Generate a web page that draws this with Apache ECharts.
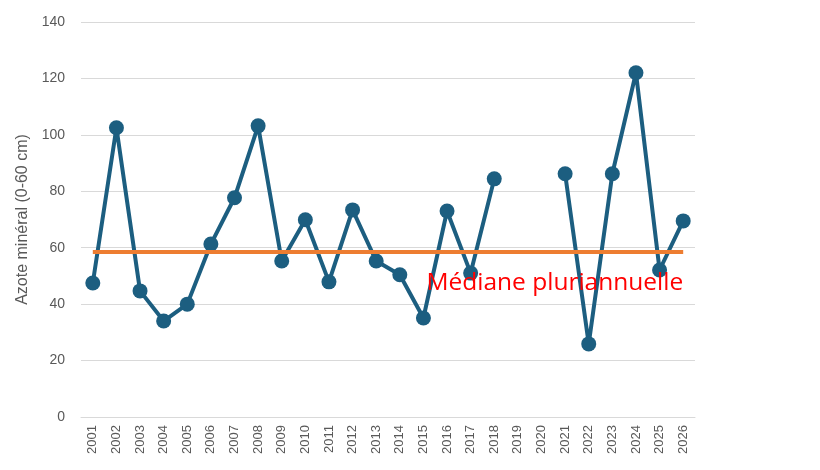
<!DOCTYPE html>
<html><head><meta charset="utf-8">
<script src="https://cdn.jsdelivr.net/npm/echarts@6/dist/echarts.min.js"></script>
<style>html,body{margin:0;padding:0;background:#fff}#c{width:820px;height:470px}</style>
</head><body><div id="c"></div>
<script>
const years = ['2001','2002','2003','2004','2005','2006','2007','2008','2009','2010','2011','2012','2013','2014','2015','2016','2017','2018','2019','2020','2021','2022','2023','2024','2025','2026'];
const azote = [47.5,102.5,44.7,34,40,61.3,77.7,103.2,55.3,69.9,47.9,73.4,55.3,50.4,35.1,73,51,84.4,null,null,86.2,25.9,86.2,122,52.1,69.5];
const median = 58.5;
const medianLabel = 'Médiane pluriannuelle';
const yTicks = {min:0,max:140,interval:20};
const chart = echarts.init(document.getElementById('c'));
chart.setOption({
  animation:false,
  grid:{left:81,right:125,top:22,bottom:53},
  xAxis:{type:'category',data:years,boundaryGap:true,
    axisLine:{show:true,lineStyle:{color:'#d9d9d9',width:1}},axisTick:{show:false},
    axisLabel:{rotate:90,color:'#595959',fontSize:13,fontFamily:'Liberation Sans',interval:0,margin:8}},
  yAxis:{type:'value',min:yTicks.min,max:yTicks.max,interval:yTicks.interval,
    name:'Azote minéral (0-60 cm)',nameLocation:'middle',nameGap:40,
    nameTextStyle:{color:'#595959',fontSize:16,fontFamily:'Liberation Sans'},
    axisLine:{show:false},axisTick:{show:false},
    axisLabel:{color:'#595959',fontSize:14,fontFamily:'Liberation Sans',margin:16},
    splitLine:{lineStyle:{color:'#d9d9d9',width:1}}},
  series:[{type:'line',data:azote,connectNulls:false,
    lineStyle:{color:'#1c5e80',width:4},
    itemStyle:{color:'#1c5e80'},symbol:'circle',symbolSize:15,
    markLine:{silent:true,symbol:'none',z:10,
      lineStyle:{color:'#ED7D31',width:4,type:'solid'},
      label:{show:true,position:'insideEndBottom',formatter:medianLabel,color:'#ff0000',fontSize:24.5,fontFamily:'Open Sans',distance:[0,19]},
      data:[[{coord:[years[0],median]},{coord:[years[years.length-1],median]}]]},
    z:3}]
});
</script></body></html>
